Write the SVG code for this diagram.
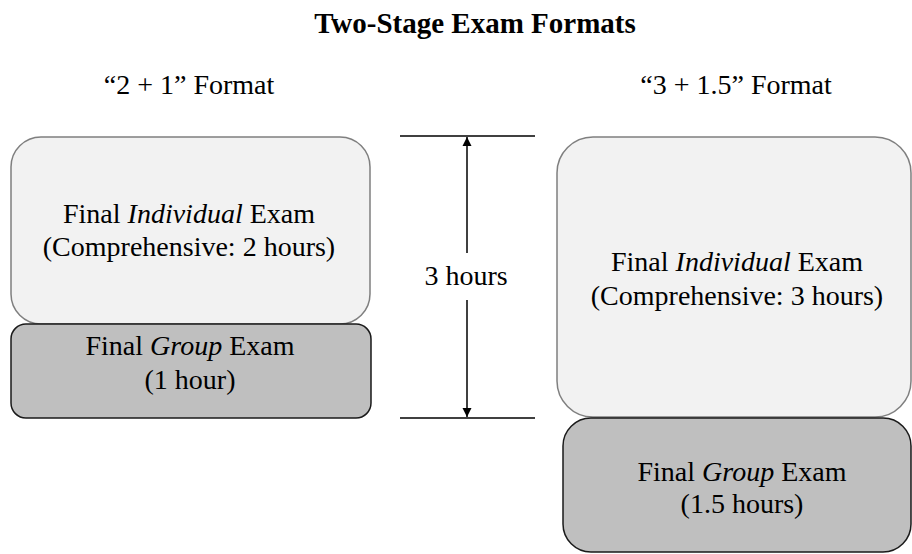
<svg xmlns="http://www.w3.org/2000/svg" width="912" height="554" viewBox="0 0 912 554">
<defs>
<style>
text{font-family:"Liberation Serif","Tinos","Times New Roman","DejaVu Serif",serif;font-size:28px;fill:#000;text-anchor:middle}
.title{font-weight:bold;font-size:29px}
.it{font-style:italic}
.light{fill:#f2f2f2;stroke:#7f7f7f;stroke-width:1.5}
.dark{fill:#bfbfbf;stroke:#1a1a1a;stroke-width:1.5}
.dim{stroke:#000;stroke-width:1.5;fill:none}
</style>
<marker id="ah" viewBox="0 0 10 10" refX="10" refY="5" markerWidth="9" markerHeight="11" markerUnits="userSpaceOnUse" orient="auto-start-reverse">
<path d="M0,0 L10,5 L0,10 z" fill="#000"/>
</marker>
</defs>
<rect width="912" height="554" fill="#fff"/>
<text class="title" x="475" y="33">Two-Stage Exam Formats</text>
<text x="189" y="94">“2 + 1” Format</text>
<text x="736" y="94">“3 + 1.5” Format</text>

<g id="left-individual">
<rect class="light" x="11" y="137" width="359" height="187" rx="30" ry="30"/>
<text x="189" y="223">Final <tspan class="it">Individual</tspan> Exam</text>
<text x="189" y="256">(Comprehensive: 2 hours)</text>
</g>
<g id="left-group">
<rect class="dark" x="11" y="324" width="360" height="94" rx="15" ry="15"/>
<text x="190" y="355">Final <tspan class="it">Group</tspan> Exam</text>
<text x="190" y="389">(1 hour)</text>
</g>
<g id="right-individual">
<rect class="light" x="557" y="137" width="354" height="280" rx="36" ry="36"/>
<text x="737" y="271">Final <tspan class="it">Individual</tspan> Exam</text>
<text x="737" y="305">(Comprehensive: 3 hours)</text>
</g>
<g id="right-group">
<rect class="dark" x="563" y="418" width="348" height="134" rx="28" ry="28"/>
<text x="742" y="481">Final <tspan class="it">Group</tspan> Exam</text>
<text x="742" y="513">(1.5 hours)</text>
</g>

<g id="connectors">
<line class="dim" x1="400" y1="136" x2="535" y2="136"/>
<line class="dim" x1="400" y1="418" x2="535" y2="418"/>
<line class="dim" x1="467" y1="253" x2="467" y2="137" marker-end="url(#ah)"/>
<line class="dim" x1="467" y1="300" x2="467" y2="417" marker-end="url(#ah)"/>
<text x="466" y="285">3 hours</text>
</g>
</svg>
